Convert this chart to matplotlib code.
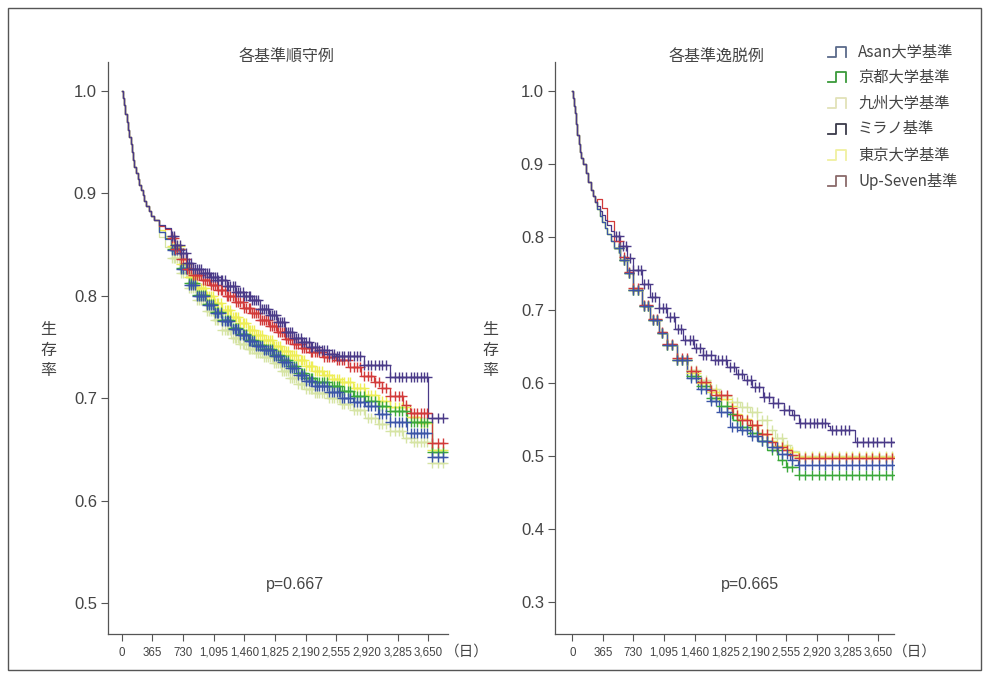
import numpy as np
import matplotlib
matplotlib.use("Agg")
import matplotlib.pyplot as plt
from matplotlib.lines import Line2D
from matplotlib.patches import Rectangle

CJK = ['Noto Sans CJK JP', 'DejaVu Sans']
LAT = ['Liberation Sans', 'DejaVu Sans']
plt.rcParams['font.family'] = CJK

# ---------------- data ----------------
series_names = ["Asan大学基準", "京都大学基準", "九州大学基準", "ミラノ基準", "東京大学基準", "Up-Seven基準"]
line_colors = {"Asan大学基準": "#3b55a8", "京都大学基準": "#3aa83a", "九州大学基準": "#d6e4a4",
               "ミラノ基準": "#4a3a88", "東京大学基準": "#eeee55", "Up-Seven基準": "#d23a3a"}
legend_icon_colors = ["#5a6a8a", "#3a9a3a", "#e2e2b8", "#3a3a4a", "#f0f0a0", "#8a6a6a"]

xtick_values = [0, 365, 730, 1095, 1460, 1825, 2190, 2555, 2920, 3285, 3650]
xtick_labels = ["0", "365", "730", "1,095", "1,460", "1,825", "2,190", "2,555", "2,920", "3,285", "3,650"]
left_yticks = [0.5, 0.6, 0.7, 0.8, 0.9, 1.0]
right_yticks = [0.3, 0.4, 0.5, 0.6, 0.7, 0.8, 0.9, 1.0]

# Left panel (各基準順守例): shared early part, then each curve (day, survival)
L_early_t = [0, 15, 30, 45, 60, 75, 90, 105, 120, 135, 150, 170, 190, 210, 230, 250, 270, 295, 320, 350, 380]
L_early_s = [1.0, 0.993, 0.986, 0.978, 0.97, 0.962, 0.955, 0.948, 0.94, 0.933, 0.926, 0.92, 0.914, 0.908,
             0.903, 0.898, 0.893, 0.888, 0.883, 0.878, 0.874]
L_milano_t = [450, 520, 590, 640, 700, 780, 850, 950, 1050, 1150, 1250, 1350, 1450, 1550, 1650, 1750, 1850,
              1950, 2050, 2150, 2250, 2350, 2450, 2550, 2880, 3190, 3650, 3890]
L_milano_s = [0.869, 0.866, 0.858, 0.85, 0.842, 0.832, 0.826, 0.822, 0.818, 0.815, 0.81, 0.804, 0.8, 0.796,
              0.787, 0.781, 0.774, 0.765, 0.759, 0.755, 0.75, 0.747, 0.743, 0.741, 0.732, 0.721, 0.681, 0.681]
L_upseven_t = [450, 520, 590, 640, 700, 780, 850, 950, 1050, 1150, 1250, 1350, 1450, 1550, 1650, 1750, 1850,
               1950, 2050, 2150, 2250, 2400, 2550, 2700, 2850, 3000, 3100, 3200, 3350, 3430, 3700, 3850]
L_upseven_s = [0.868, 0.865, 0.856, 0.846, 0.836, 0.826, 0.82, 0.815, 0.811, 0.806, 0.8, 0.794, 0.788, 0.783,
               0.776, 0.77, 0.765, 0.758, 0.753, 0.749, 0.745, 0.74, 0.737, 0.73, 0.722, 0.716, 0.71, 0.702,
               0.693, 0.686, 0.656, 0.656]
L_tokyo_t = [450, 520, 590, 700, 800, 900, 1000, 1100, 1200, 1300, 1400, 1500, 1600, 1700, 1800, 1900, 2000,
             2100, 2200, 2300, 2400, 2500, 2600, 2750, 2900, 3050, 3200, 3400, 3550, 3700, 3860]
L_tokyo_s = [0.864, 0.858, 0.849, 0.831, 0.818, 0.808, 0.8, 0.793, 0.786, 0.779, 0.773, 0.767, 0.762, 0.757,
             0.751, 0.746, 0.742, 0.737, 0.731, 0.727, 0.723, 0.719, 0.716, 0.71, 0.703, 0.697, 0.691, 0.682,
             0.676, 0.649, 0.649]
L_kyoto_t = [450, 520, 590, 700, 800, 900, 1000, 1100, 1200, 1300, 1400, 1500, 1600, 1700, 1800, 1900, 2000,
             2100, 2200, 2300, 2450, 2600, 2750, 2900, 3050, 3200, 3400, 3700, 3860]
L_kyoto_s = [0.862, 0.856, 0.846, 0.827, 0.812, 0.801, 0.792, 0.784, 0.776, 0.769, 0.763, 0.757, 0.752, 0.748,
             0.742, 0.737, 0.731, 0.725, 0.72, 0.716, 0.712, 0.707, 0.702, 0.697, 0.692, 0.687, 0.677, 0.647, 0.647]
L_asan_t = [450, 520, 590, 700, 800, 900, 1000, 1100, 1200, 1300, 1400, 1500, 1600, 1700, 1800, 1900, 2000,
            2100, 2200, 2300, 2450, 2600, 2750, 2900, 3050, 3200, 3400, 3700, 3860]
L_asan_s = [0.862, 0.855, 0.845, 0.826, 0.811, 0.8, 0.791, 0.783, 0.775, 0.768, 0.762, 0.756, 0.751, 0.747,
            0.741, 0.735, 0.729, 0.723, 0.717, 0.712, 0.706, 0.7, 0.696, 0.692, 0.685, 0.677, 0.666, 0.643, 0.643]
L_kyushu_t = [450, 520, 600, 700, 800, 900, 1000, 1100, 1200, 1300, 1400, 1500, 1600, 1700, 1800, 1900, 2000,
              2100, 2200, 2300, 2450, 2600, 2750, 2900, 3050, 3200, 3350, 3450, 3700, 3860]
L_kyushu_s = [0.857, 0.848, 0.837, 0.822, 0.808, 0.796, 0.785, 0.776, 0.767, 0.759, 0.753, 0.748, 0.744, 0.74,
              0.734, 0.727, 0.72, 0.714, 0.709, 0.705, 0.7, 0.694, 0.688, 0.681, 0.675, 0.668, 0.661, 0.657,
              0.637, 0.637]

# Right panel (各基準逸脱例)
R_early_t = [0, 10, 20, 30, 45, 60, 75, 90, 110, 130, 160, 190, 220, 250, 275]
R_early_s = [1.0, 0.99, 0.98, 0.97, 0.955, 0.94, 0.927, 0.916, 0.908, 0.9, 0.888, 0.875, 0.865, 0.856, 0.848]
R_milano_t = [300, 330, 360, 390, 420, 460, 500, 573, 650, 730, 830, 930, 1030, 1130, 1230, 1324, 1450, 1560,
              1700, 1850, 1950, 2050, 2150, 2280, 2400, 2520, 2620, 2700, 3050, 3080, 3370, 3870]
R_milano_s = [0.842, 0.836, 0.83, 0.823, 0.816, 0.808, 0.801, 0.787, 0.771, 0.755, 0.736, 0.718, 0.703, 0.69,
              0.674, 0.659, 0.648, 0.638, 0.631, 0.622, 0.612, 0.604, 0.595, 0.581, 0.572, 0.563, 0.556, 0.545,
              0.541, 0.536, 0.519, 0.519]
R_lower_t = [300, 330, 360, 390, 420, 460, 500, 573, 650, 730, 830, 930, 1030, 1130, 1250]
R_lower_s = [0.838, 0.829, 0.82, 0.812, 0.804, 0.795, 0.785, 0.768, 0.75, 0.728, 0.705, 0.686, 0.668, 0.652, 0.632]
R_upseven_t = [300, 360, 420, 500, 573, 650, 730, 830, 930, 1030, 1130, 1250, 1372, 1500, 1646, 1718, 1849,
               1921, 2000, 2124, 2220, 2326, 2420, 2517, 2600, 2690, 3870]
R_upseven_s = [0.852, 0.84, 0.822, 0.795, 0.772, 0.752, 0.73, 0.707, 0.688, 0.67, 0.654, 0.634, 0.616, 0.602,
               0.59, 0.584, 0.566, 0.556, 0.55, 0.542, 0.53, 0.519, 0.512, 0.508, 0.502, 0.497, 0.497]
R_tokyo_t = [1372, 1500, 1646, 1750, 1849, 1921, 2000, 2124, 2220, 2326, 2420, 2517, 2600, 2690, 3860]
R_tokyo_s = [0.614, 0.6, 0.588, 0.578, 0.568, 0.558, 0.551, 0.543, 0.53, 0.52, 0.514, 0.51, 0.505, 0.499, 0.499]
R_kyushu_t = [1372, 1500, 1646, 1750, 1849, 2000, 2124, 2207, 2326, 2420, 2517, 2600, 2700, 3860]
R_kyushu_s = [0.618, 0.604, 0.592, 0.582, 0.574, 0.567, 0.56, 0.549, 0.535, 0.525, 0.515, 0.507, 0.5, 0.5]
R_kyoto_t = [1372, 1500, 1646, 1750, 1849, 1921, 2000, 2124, 2220, 2326, 2450, 2550, 2700, 3850]
R_kyoto_s = [0.61, 0.596, 0.58, 0.568, 0.558, 0.549, 0.54, 0.532, 0.52, 0.508, 0.495, 0.485, 0.474, 0.474]
R_asan_t = [1372, 1500, 1646, 1750, 1885, 2000, 2124, 2220, 2326, 2450, 2600, 2690, 3870]
R_asan_s = [0.607, 0.592, 0.575, 0.56, 0.54, 0.535, 0.528, 0.52, 0.512, 0.503, 0.495, 0.488, 0.488]

# censoring days (read from the "+" marks)
censor_left = [600, 625, 640, 660, 690, 710, 735, 760, 780, 800, 830, 850, 870, 900, 920, 945, 970, 990, 1010,
               1040, 1060, 1085, 1110, 1130, 1150, 1180, 1200, 1225, 1250, 1270, 1290, 1320, 1345, 1365, 1390,
               1410, 1440, 1460, 1485, 1510, 1530, 1555, 1580, 1600, 1625, 1650, 1670, 1700, 1720, 1745, 1770,
               1790, 1815, 1840, 1860, 1890, 1910, 1935, 1960, 1980, 2005, 2030, 2055, 2075, 2100, 2130, 2150,
               2175, 2200, 2225, 2250, 2270, 2300, 2330, 2350, 2380, 2410, 2440, 2470, 2500, 2530, 2560, 2590,
               2620, 2650, 2690, 2720, 2760, 2800, 2840, 2880, 2930, 2970, 3010, 3060, 3100, 3150, 3200, 3250,
               3300, 3340, 3390, 3440, 3480, 3520, 3560, 3600, 3640, 3700, 3760, 3820]
censor_right_upper = [520, 560, 600, 640, 690, 730, 780, 820, 860, 900, 950, 990, 1030, 1080, 1120, 1170, 1210,
                      1260, 1300, 1350, 1400, 1440, 1480, 1520, 1560, 1600, 1650, 1700, 1740, 1790, 1830, 1880,
                      1930, 1980, 2030, 2080, 2130, 2180, 2230, 2290, 2350, 2400, 2460, 2520, 2580, 2640, 2720,
                      2780, 2830, 2880, 2920, 2980, 3020, 3100, 3150, 3200, 3250, 3300, 3400, 3470, 3530, 3590,
                      3640, 3720, 3800, 3860]
censor_right_lower = [560, 620, 680, 730, 790, 850, 900, 960, 1010, 1070, 1130, 1190, 1250, 1310, 1370, 1420,
                      1480, 1540, 1600, 1660, 1720, 1780, 1840, 1900, 1960, 2020, 2080, 2140, 2200, 2260, 2320,
                      2380, 2440, 2500, 2560, 2620, 2700, 2780, 2860, 2940, 3020, 3100, 3180, 3260, 3340, 3420,
                      3500, 3580, 3660, 3740, 3820]

left_curves = [("九州大学基準", L_early_t + L_kyushu_t, L_early_s + L_kyushu_s),
               ("東京大学基準", L_early_t + L_tokyo_t, L_early_s + L_tokyo_s),
               ("京都大学基準", L_early_t + L_kyoto_t, L_early_s + L_kyoto_s),
               ("Asan大学基準", L_early_t + L_asan_t, L_early_s + L_asan_s),
               ("Up-Seven基準", L_early_t + L_upseven_t, L_early_s + L_upseven_s),
               ("ミラノ基準", L_early_t + L_milano_t, L_early_s + L_milano_s)]
R_low_t = R_early_t + R_lower_t
R_low_s = R_early_s + R_lower_s
right_curves = [("九州大学基準", R_low_t + R_kyushu_t, R_low_s + R_kyushu_s, censor_right_lower),
                ("東京大学基準", R_low_t + R_tokyo_t, R_low_s + R_tokyo_s, censor_right_lower),
                ("京都大学基準", R_low_t + R_kyoto_t, R_low_s + R_kyoto_s, censor_right_lower),
                ("Up-Seven基準", R_early_t + R_upseven_t, R_early_s + R_upseven_s, censor_right_lower),
                ("Asan大学基準", R_low_t + R_asan_t, R_low_s + R_asan_s, censor_right_lower),
                ("ミラノ基準", R_early_t + R_milano_t, R_early_s + R_milano_s, censor_right_upper)]

# ---------------- figure ----------------
W, H = 986, 677
fig = plt.figure(figsize=(W / 100, H / 100), dpi=100)
fig.patch.set_facecolor("white")

def fx(px):
    return px / W

def fy(py):
    return 1 - py / H

axL = fig.add_axes([fx(108), fy(634), fx(448) - fx(108), fy(62) - fy(634)])
axR = fig.add_axes([fx(555), fy(634), fx(894) - fx(555), fy(62) - fy(634)])

def draw_km(ax, t, s, color, censor):
    t = np.asarray(t, float)
    s = np.asarray(s, float)
    ax.step(t, s, where="post", color=color, lw=0.9, zorder=2)
    c = np.asarray([d for d in censor if d <= t[-1]], float)
    idx = np.searchsorted(t, c, side="right") - 1
    ax.plot(c, s[idx], linestyle="none", marker="+", markersize=6.5, markeredgewidth=1.0,
            color=color, zorder=3)

for name, t, s in left_curves:
    draw_km(axL, t, s, line_colors[name], censor_left)
for name, t, s, cen in right_curves:
    draw_km(axR, t, s, line_colors[name], cen)

axL.set_xlim(-163, 3885)
axL.set_ylim(0.4697, 1.0283)
axR.set_xlim(-206, 3838)
axR.set_ylim(0.2562, 1.0397)
axL.set_yticks(left_yticks)
axR.set_yticks(right_yticks)

for ax in (axL, axR):
    for side in ("top", "right"):
        ax.spines[side].set_visible(False)
    for side in ("left", "bottom"):
        ax.spines[side].set_color("#555555")
        ax.spines[side].set_linewidth(0.9)
    ax.set_xticks(xtick_values)
    ax.set_xticklabels(xtick_labels, family=LAT, fontsize=8.3, color="#444444")
    ax.set_yticklabels([f"{v:.1f}" for v in ax.get_yticks()], family=LAT, fontsize=12, color="#444444")
    ax.tick_params(axis="both", direction="out", length=5, width=0.8, color="#555555")
    ax.tick_params(axis="x", pad=4)
    ax.tick_params(axis="y", pad=3)
    ax.patch.set_alpha(0)

# titles, labels, annotations
fig.text(fx(287), fy(57), "各基準順守例", ha="center", va="center", fontsize=11.5, color="#444444")
fig.text(fx(717), fy(57), "各基準逸脱例", ha="center", va="center", fontsize=11.5, color="#444444")
fig.text(fx(295), fy(585), "p=0.667", ha="center", va="center", fontsize=11.5, color="#444444", family=LAT)
fig.text(fx(750), fy(585), "p=0.665", ha="center", va="center", fontsize=11.5, color="#444444", family=LAT)
fig.text(fx(48), fy(350), "生\n存\n率", ha="center", va="center", fontsize=11.5, color="#444444",
         linespacing=1.3)
fig.text(fx(490), fy(350), "生\n存\n率", ha="center", va="center", fontsize=11.5, color="#444444",
         linespacing=1.3)
fig.text(fx(467), fy(652), "（日）", ha="center", va="center", fontsize=10.5, color="#444444")
fig.text(fx(915), fy(652), "（日）", ha="center", va="center", fontsize=10.5, color="#444444")

# legend (step-shaped icons)
row_y = [52, 77, 103, 129, 155, 181]
for name, icol, yy in zip(series_names, legend_icon_colors, row_y):
    xs = [fx(828), fx(836), fx(836), fx(846), fx(846)]
    ys = [fy(yy + 5), fy(yy + 5), fy(yy - 5), fy(yy - 5), fy(yy + 5)]
    fig.add_artist(Line2D(xs, ys, transform=fig.transFigure, color=icol, lw=1.3))
    fig.text(fx(858), fy(yy), name, ha="left", va="center", fontsize=11, color="#444444")

# outer frame
fig.add_artist(Rectangle((fx(8), fy(670)), fx(981) - fx(8), fy(8) - fy(670), transform=fig.transFigure,
                         fill=False, edgecolor="#555555", lw=1.0))

fig.savefig("out.png", dpi=100, facecolor="white")
